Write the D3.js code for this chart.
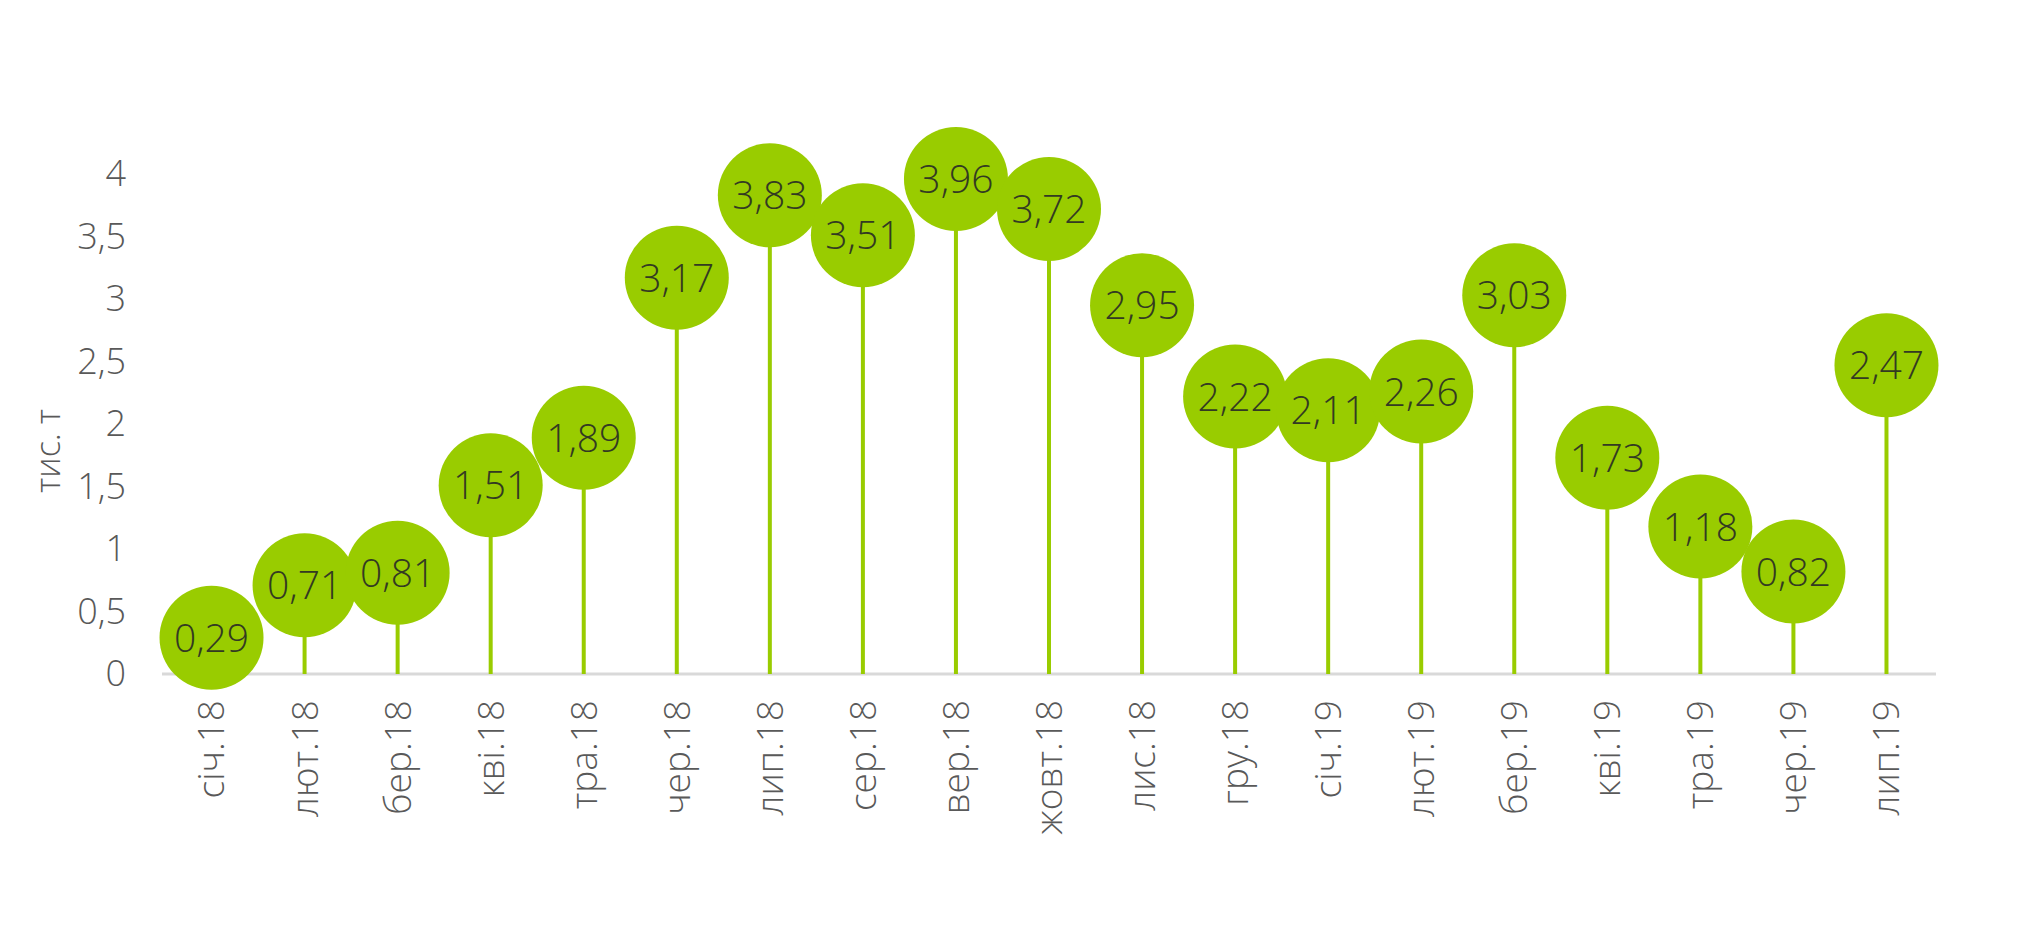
<!DOCTYPE html>
<html lang="uk">
  <head>
    <meta charset="UTF-8" />
    <title>Lollipop chart</title>
    <script src="https://cdn.jsdelivr.net/npm/d3@7"></script>
    <style>
      body { margin: 0; background: #fff; }
      text { font-family: "Open Sans", "Noto Sans", sans-serif; font-weight: 300; }
    </style>
  </head>
  <body>
    <div id="chart"></div>
    <script>
      // months and values (тис. т)
      const months = [
        "січ.18", "лют.18", "бер.18", "кві.18", "тра.18", "чер.18", "лип.18",
        "сер.18", "вер.18", "жовт.18", "лис.18", "гру.18", "січ.19", "лют.19",
        "бер.19", "кві.19", "тра.19", "чер.19", "лип.19"
      ];
      const values = [
        0.29, 0.71, 0.81, 1.51, 1.89, 3.17, 3.83, 3.51, 3.96, 3.72,
        2.95, 2.22, 2.11, 2.26, 3.03, 1.73, 1.18, 0.82, 2.47
      ];
      const yTicks = [0, 0.5, 1, 1.5, 2, 2.5, 3, 3.5, 4];

      const width = 2023, height = 937;
      const margin = { top: 174, right: 90, bottom: 263, left: 165 };
      const green = "#99cc00";
      const fmt = (v) => String(v).replace(".", ",");

      const svg = d3
        .select("#chart")
        .append("svg")
        .attr("width", width)
        .attr("height", height);

      const x = d3
        .scaleBand()
        .domain(months)
        .range([margin.left, width - margin.right]);

      const y = d3
        .scaleLinear()
        .domain([0, 4])
        .range([height - margin.bottom, margin.top]);

      // y axis labels
      const yAxis = d3.axisLeft(y).tickValues(yTicks).tickFormat(fmt).tickSize(0).tickPadding(0);
      svg
        .append("g")
        .attr("transform", "translate(126,0)")
        .call(yAxis)
        .call((g) => g.select(".domain").remove())
        .selectAll("text")
        .attr("font-size", 36)
        .attr("fill", "#595959")
        .style("font-family", "'Open Sans', sans-serif")
        .style("font-weight", 300);

      svg
        .append("text")
        .attr("transform", "translate(48,451) rotate(-90)")
        .attr("text-anchor", "middle")
        .attr("dy", "0.35em")
        .attr("font-size", 34)
        .attr("fill", "#595959")
        .text("тис. т");

      // x axis
      svg
        .append("line")
        .attr("x1", x.range()[0] - 3)
        .attr("x2", x.range()[1] + 3)
        .attr("y1", y(0))
        .attr("y2", y(0))
        .attr("stroke", "#d9d9d9")
        .attr("stroke-width", 3);

      const cx = (d) => x(d) + x.bandwidth() / 2;

      svg
        .selectAll(".xlabel")
        .data(months)
        .enter()
        .append("text")
        .attr("class", "xlabel")
        .attr("transform", (d) => `translate(${cx(d)},${y(0) + 26}) rotate(-90)`)
        .attr("text-anchor", "end")
        .attr("dy", "0.35em")
        .attr("font-size", 37)
        .attr("fill", "#595959")
        .text((d) => d);

      const data = months.map((m, i) => ({ month: m, value: values[i] }));

      // stems
      svg
        .selectAll(".stem")
        .data(data)
        .enter()
        .append("line")
        .attr("class", "stem")
        .attr("x1", (d) => cx(d.month))
        .attr("x2", (d) => cx(d.month))
        .attr("y1", y(0))
        .attr("y2", (d) => y(d.value))
        .attr("stroke", green)
        .attr("stroke-width", 4);

      // bubbles with labels
      const dots = svg
        .selectAll(".dot")
        .data(data)
        .enter()
        .append("g")
        .attr("class", "dot")
        .attr("transform", (d) => `translate(${cx(d.month)},${y(d.value)})`);

      dots.append("circle").attr("r", 52).attr("fill", green);

      dots
        .append("text")
        .attr("text-anchor", "middle")
        .attr("dy", "0.36em")
        .attr("font-size", 39)
        .attr("fill", "#333a22")
        .text((d) => fmt(d.value));
    </script>
  </body>
</html>
